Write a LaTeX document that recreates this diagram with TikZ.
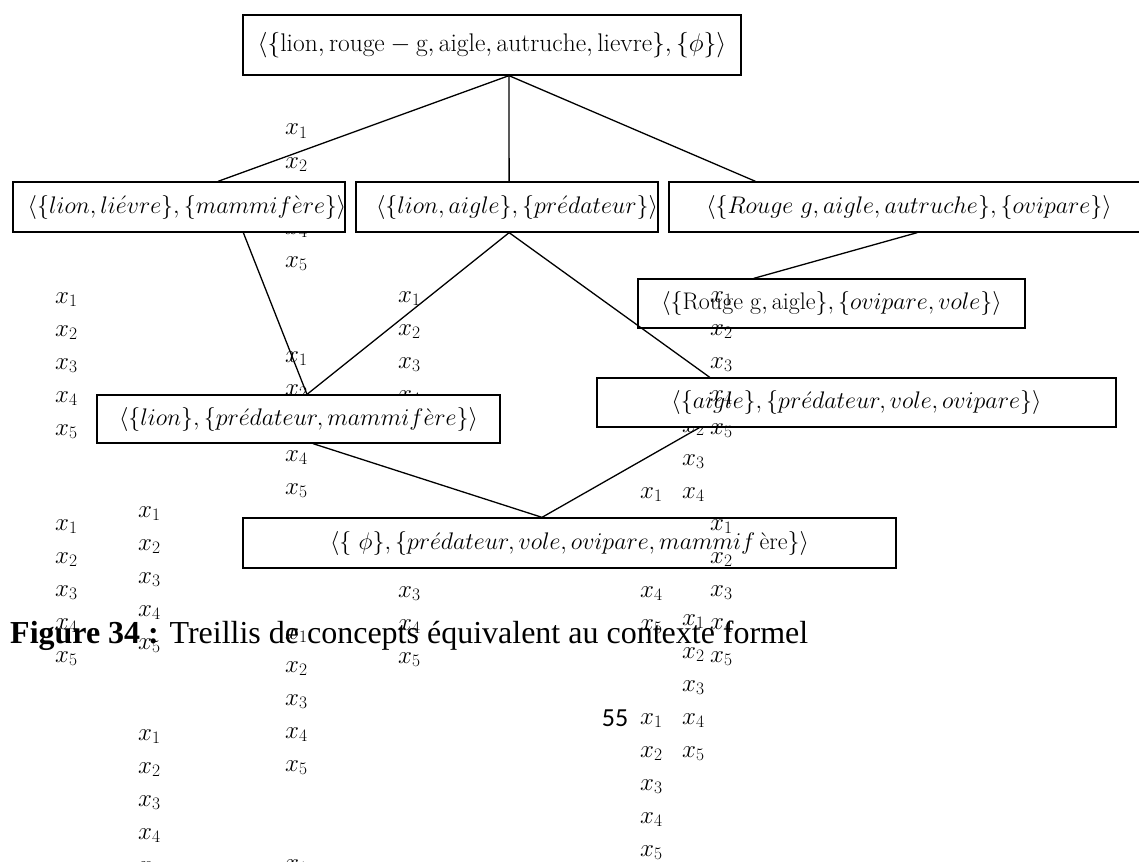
\RequirePackage{fix-cm}
\documentclass[tikz,border=0pt]{standalone}
\usepackage{fontspec}
\usetikzlibrary{calc}
\newfontfamily\capfont{Liberation Serif}
\newfontfamily\pagefont{Carlito}
\tikzset{
  concept/.style={draw, line width=1.3pt, fill=white, inner sep=0pt,
    font=\fontsize{24}{28}\selectfont},
  link/.style={line width=1.3pt},
  xlab/.style={anchor=base west, inner sep=0pt, font=\fontsize{25}{28}\selectfont},
}
% a column of the labels x_1 ... x_5 : name, left x, centre y of x_1
\newcommand\stackcol[3]{%
  \foreach \k in {1,...,5}{%
    \node[xlab] (#1-\k) at (#2,{#3+33*(\k-1)+5}) {$x_{\k}$};}}
\begin{document}
\begin{tikzpicture}[x=1pt,y=-1pt]
\clip (0,0) rectangle (1139,861);

% label columns lying behind the concept boxes
\stackcol{s1}{285}{130}
\stackcol{s10}{398}{297}
\stackcol{s8}{285}{357}
\stackcol{s12}{682}{394}
\stackcol{s13}{640}{493}
\stackcol{s9}{398}{526}

% concepts of the lattice
\node[concept, minimum width=498pt, minimum height=60pt, font=\fontsize{25.5}{30}\selectfont] (top) at (492,45)
  {$\langle\{\mathrm{lion},\mathrm{rouge}-\mathrm{g},\mathrm{aigle},\mathrm{autruche},\mathrm{lievre}\},\{\phi\}\rangle$};
\node[concept, minimum width=332pt, minimum height=50pt] (A) at (179,207)
  {\hspace*{8pt}$\langle\{lion,li\acute{e}vre\},\{mammif\grave{e}re\}\rangle$\hspace*{-8pt}};
\node[concept, minimum width=302pt, minimum height=50pt] (B) at (507,207)
  {\hspace*{10pt}$\langle\{lion,aigle\},\{pr\acute{e}dateur\}\rangle$\hspace*{-10pt}};
\node[concept, minimum width=480pt, minimum height=50pt] (C) at (909,207)
  {$\langle\{Rouge\ g,aigle,autruche\},\{ovipare\}\rangle$};
\node[concept, minimum width=387pt, minimum height=49pt] (D) at (831.5,303.5)
  {$\langle\{\mathrm{Rouge\ g},\mathrm{aigle}\},\{ovipare,vole\}\rangle$};
\node[concept, minimum width=403pt, minimum height=48pt] (E) at (298.5,419)
  {$\langle\{lion\},\{pr\acute{e}dateur,mammif\grave{e}re\}\rangle$};
\node[concept, minimum width=519pt, minimum height=49pt] (F) at (856.5,402.5)
  {$\langle\{aigle\},\{pr\acute{e}dateur,vole,ovipare\}\rangle$};
\node[concept, minimum width=653pt, minimum height=50pt] (G) at (569.5,543)
  {$\langle\{\ \phi\},\{pr\acute{e}dateur,vole,ovipare,mammif\,\mbox{ère}\}\rangle$};

% attachment points of the edges
\coordinate (top-b) at ($(top.south west)!0.534!(top.south east)$);
\coordinate (A-t) at ($(A.north west)!0.617!(A.north east)$);
\coordinate (A-b) at ($(A.south west)!0.693!(A.south east)$);
\coordinate (B-t) at ($(B.north west)!0.507!(B.north east)$);
\coordinate (B-b) at ($(B.south west)!0.507!(B.south east)$);
\coordinate (C-t) at ($(C.north west)!0.181!(C.north east)$);
\coordinate (C-b) at ($(C.south west)!0.517!(C.south east)$);
\coordinate (D-t) at ($(D.north west)!0.30!(D.north east)$);
\coordinate (E-t) at ($(E.north west)!0.521!(E.north east)$);
\coordinate (E-b) at ($(E.south west)!0.536!(E.south east)$);
\coordinate (F-t) at ($(F.north west)!0.218!(F.north east)$);
\coordinate (F-b) at ($(F.south west)!0.198!(F.south east)$);
\coordinate (G-t) at ($(G.north west)!0.458!(G.north east)$);

% edges
\draw[link] (top-b) -- (A-t);
\draw[link] (top-b) -- (B-t);
\draw[link] (top-b) -- (C-t);
\draw[link] (C-b) -- (D-t);
\draw[link] (A-b) -- (E-t);
\draw[link] (B-b) -- (E-t);
\draw[link] (B-b) -- (F-t);
\draw[link] (E-b) -- (G-t);
\draw[link] (F-b) -- (G-t);

% remaining label columns
\stackcol{s2}{55}{298}
\stackcol{s3}{55}{525}
\stackcol{s4}{138}{512}
\stackcol{s5}{138}{735}
\stackcol{s6}{285}{634}
\stackcol{s7}{285}{865}
\stackcol{s11}{710}{297}
\stackcol{s14}{710}{525}
\stackcol{s15}{682}{620}
\stackcol{s16}{640}{719}

% caption and page number
\node[anchor=base west, inner sep=0pt, font=\capfont\fontsize{32}{36}\selectfont] (cap) at (10,643)
  {\textbf{Figure 34 :} Treillis de concepts équivalent au contexte formel};
\node[inner sep=0pt, font=\pagefont\fontsize{26}{30}\selectfont] (pg) at (615,718) {55};
\end{tikzpicture}
\end{document}
